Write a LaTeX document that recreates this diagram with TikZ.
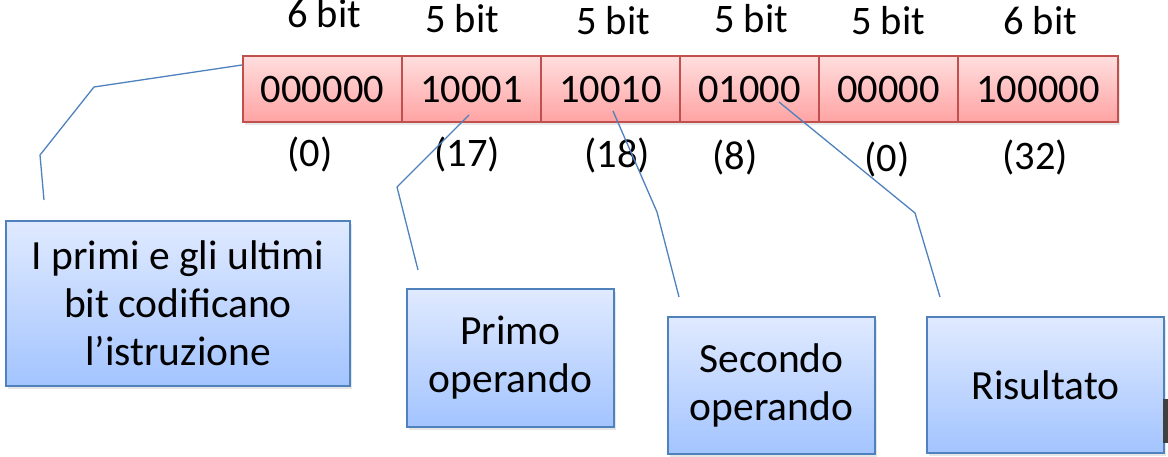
\documentclass[tikz,border=0pt]{standalone}
\usepackage{fontspec}
\setmainfont{Carlito}
\usetikzlibrary{shadows,calc}
\definecolor{redline}{RGB}{192,80,77}
\definecolor{redtop}{RGB}{255,222,222}
\definecolor{redbot}{RGB}{255,163,163}
\definecolor{blueline}{RGB}{79,129,189}
\definecolor{bluetop}{RGB}{224,234,255}
\definecolor{bluebot}{RGB}{163,196,255}
\begin{document}
\begin{tikzpicture}[x=1pt,y=-1pt,
  big/.style={font=\fontsize{40.5}{48}\selectfont},
  cell/.style={big, draw=redline, line width=2pt, top color=redtop, bottom color=redbot,
    minimum height=66pt, inner sep=0pt,
    drop shadow={opacity=0.18, shadow xshift=2pt, shadow yshift=-3pt}},
  note/.style={font=\fontsize{41.5}{48}\selectfont, draw=blueline, line width=2pt,
    top color=bluetop, bottom color=bluebot, align=center, inner sep=0pt,
    drop shadow={opacity=0.2, shadow xshift=2pt, shadow yshift=-3pt}},
  lbl/.style={big, anchor=base, inner sep=0pt},
  conn/.style={draw=blueline, line width=1.3pt, line join=round}]
\useasboundingbox (0,0) rectangle (1168,457);

% register cells
\node[cell, minimum width=159pt] (c1) at (322.5,89) {000000};
\node[cell, minimum width=139pt] (c2) at (471.5,89) {10001};
\node[cell, minimum width=139pt] (c3) at (610.5,89) {10010};
\node[cell, minimum width=139pt] (c4) at (749.5,89) {01000};
\node[cell, minimum width=139pt] (c5) at (888.5,89) {00000};
\node[cell, minimum width=160pt] (c6) at (1038,89) {100000};

% bit widths
\node[lbl] (w1) at (324,28) {6 bit};
\node[lbl] (w2) at (462,33) {5 bit};
\node[lbl] (w3) at (613,35) {5 bit};
\node[lbl] (w4) at (751,33) {5 bit};
\node[lbl] (w5) at (888,35) {5 bit};
\node[lbl] (w6) at (1040,35) {6 bit};

% decimal values
\node[lbl] (v1) at (310,167) {(0)};
\node[lbl] (v2) at (467,167) {(17)};
\node[lbl] (v3) at (617,168) {(18)};
\node[lbl] (v4) at (735,170) {(8)};
\node[lbl] (v5) at (887,172) {(0)};
\node[lbl] (v6) at (1035,170) {(32)};

% callout boxes
\node[note, minimum width=344pt, minimum height=165pt] (b1) at (178,303.5)
  {I primi e gli ultimi\\bit codificano\\l’istruzione};
\node[note, minimum width=207pt, minimum height=138pt] (b2) at (510.5,358)
  {Primo\\operando};
\node[note, minimum width=207pt, minimum height=137pt] (b3) at (771.5,385.5)
  {Secondo\\operando};
\node[note, minimum width=237pt, minimum height=136pt] (b4) at (1045.5,385)
  {Risultato};

% small dark edge mark at right border
\fill[black!75] (1163,399) rectangle (1168,443);

% connectors
\coordinate (e1) at (44,200);
\coordinate (e2) at (418,270);
\coordinate (e3) at (679,297);
\coordinate (e4) at (940,297);
\draw[conn] ($(c1.north west)+(0,10)$) -- (94,87) -- (40,155) -- (e1);
\draw[conn] ($(c2.center)+(-2.5,26)$) -- (397,187) -- (e2);
\draw[conn] ($(c3.center)+(2.5,22)$) -- (657,212) -- (e3);
\draw[conn] ($(c4.center)+(29.5,13)$) -- (915,213) -- (e4);
\end{tikzpicture}
\end{document}
